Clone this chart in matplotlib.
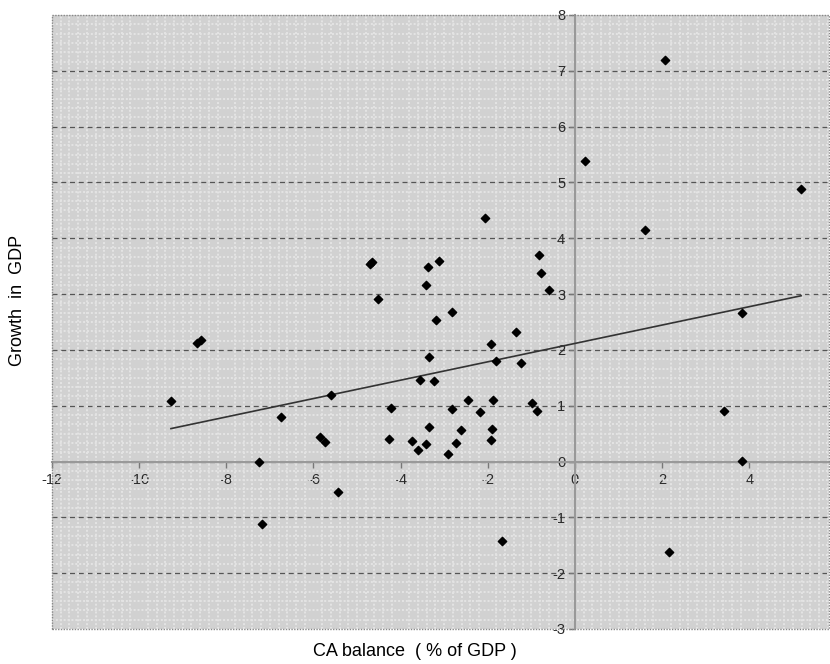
import numpy as np
import matplotlib; matplotlib.use("Agg")
import matplotlib.pyplot as plt
from matplotlib.patches import Rectangle
from matplotlib.ticker import MultipleLocator

plt.rcParams['font.family'] = ['Liberation Sans', 'DejaVu Sans']
plt.rcParams['axes.unicode_minus'] = False

# CA balance (% of GDP) vs growth in GDP
ca_balance = [-9.27, -8.68, -8.58, -7.26, -7.18, -6.74, -5.85, -5.73, -5.59, -5.43,
              -4.70, -4.66, -4.51, -4.27, -4.21, -3.75, -3.59, -3.56, -3.42, -3.38,
              -3.42, -3.36, -3.34, -3.24, -3.19, -3.13, -2.92, -2.82, -2.81, -2.73,
              -2.61, -2.45, -2.19, -2.07, -1.93, -1.93, -1.90, -1.89, -1.81, -1.67,
              -1.36, -1.23, -0.98, -0.88, -0.83, -0.79, -0.60, 0.23, 1.61, 2.06,
              2.16, 3.42, 3.84, 3.84, 5.19]
gdp_growth = [1.09, 2.13, 2.18, 0.00, -1.11, 0.79, 0.44, 0.35, 1.20, -0.54,
              3.54, 3.57, 2.91, 0.41, 0.96, 0.37, 0.21, 1.46, 3.17, 3.48,
              0.31, 0.62, 1.87, 1.45, 2.54, 3.59, 0.13, 0.95, 2.68, 0.34,
              0.56, 1.11, 0.89, 4.36, 2.10, 0.39, 0.58, 1.10, 1.81, -1.42,
              2.32, 1.77, 1.04, 0.91, 3.70, 3.37, 3.08, 5.39, 4.14, 7.20,
              -1.62, 0.91, 2.67, 0.01, 4.88]

x = np.array(ca_balance); y = np.array(gdp_growth)
slope, intercept = np.polyfit(x, y, 1)   # linear trend line

fig = plt.figure(figsize=(8.3, 6.64), dpi=100)
ax = fig.add_axes([52/830, 1 - 629/664, (829 - 52)/830, (629 - 15)/664])
ax.set_xlim(-12, 5.83); ax.set_ylim(-3, 8)

# textured grey plot area
ax.set_facecolor("#d1d1d1")
ax.xaxis.set_minor_locator(MultipleLocator(0.2))
ax.yaxis.set_minor_locator(MultipleLocator(1/6))
ax.grid(which="minor", color="#e4e4e4", lw=1.4, ls=(0, (1, 1)))
ax.tick_params(which="minor", length=0)
for yy in range(-2, 8):
    ax.axhline(yy, color="#555555", lw=0.9, ls=(0, (4, 3)), zorder=1)

# axes crossing at zero
for s in ("top", "right"):
    ax.spines[s].set_visible(False)
ax.spines["left"].set_position(("data", 0))
ax.spines["bottom"].set_position(("data", 0))
ax.spines["left"].set_color("#999999"); ax.spines["bottom"].set_color("#999999")
ax.spines["left"].set_linewidth(1.5); ax.spines["bottom"].set_linewidth(1.5)
ax.add_patch(Rectangle((0, 0), 1, 1, transform=ax.transAxes, fill=False,
                       ec="#888888", lw=1, ls=(0, (1, 1)), zorder=5, clip_on=False))

ax.set_xticks(range(-12, 5, 2)); ax.set_yticks(range(-3, 9))
ax.tick_params(which="major", direction="out", length=4, width=1, color="#777777",
               labelsize=10.5, labelcolor="#2a2a2a")
ax.tick_params(axis="x", pad=4)
ax.tick_params(axis="y", pad=3)

ax.scatter(x, y, marker="D", s=18, color="black", zorder=4)
xs = np.array([x.min(), x.max()])
ax.plot(xs, intercept + slope * xs, color="#333333", lw=1.2, zorder=3)

fig.text(415/830, 1 - 652/664, "CA balance  ( % of GDP )", ha="center", va="center", fontsize=13)
fig.text(18/830, 1 - 300/664, "Growth  in  GDP", ha="center", va="center", rotation=90, fontsize=13)

fig.savefig("out.png", dpi=100, facecolor="white")
